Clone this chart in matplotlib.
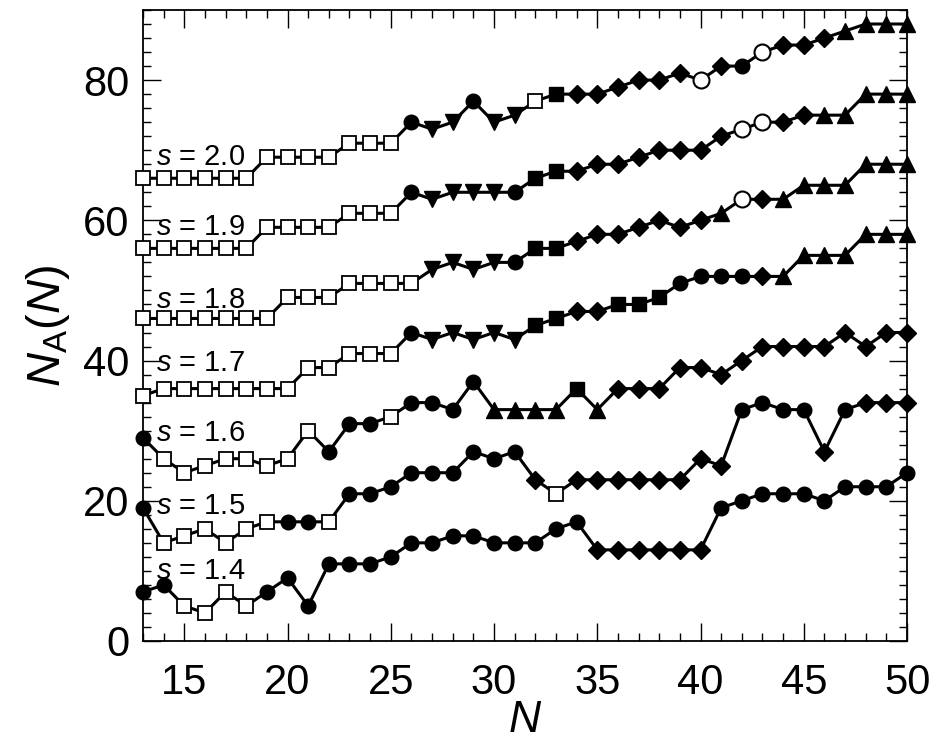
import numpy as np
import matplotlib
matplotlib.use('Agg')
import matplotlib.pyplot as plt
from matplotlib.ticker import MultipleLocator

plt.rcParams['font.family'] = ['Liberation Sans', 'DejaVu Sans']
plt.rcParams['mathtext.fontset'] = 'custom'
plt.rcParams['mathtext.rm'] = 'Liberation Sans'
plt.rcParams['mathtext.it'] = 'Liberation Sans:italic'

N = np.arange(13, 51)

# structure type of each cluster:
# q open square, c filled circle, v triangle down, S filled square,
# d diamond, o open circle, u triangle up
s_values = ['1.4', '1.5', '1.6', '1.7', '1.8', '1.9', '2.0']

na_14 = [7, 8, 5, 4, 7, 5, 7, 9, 5, 11, 11, 11, 12, 14, 14, 15, 15, 14, 14, 14,
         16, 17, 13, 13, 13, 13, 13, 13, 19, 20, 21, 21, 21, 20, 22, 22, 22, 24]
ty_14 = 'cc' + 'q'*4 + 'c'*16 + 'd'*6 + 'c'*10

na_15 = [19, 14, 15, 16, 14, 16, 17, 17, 17, 17, 21, 21, 22, 24, 24, 24, 27, 26, 27, 23,
         21, 23, 23, 23, 23, 23, 23, 26, 25, 33, 34, 33, 33, 27, 33, 34, 34, 34]
ty_15 = 'c' + 'q'*6 + 'cc' + 'q' + 'c'*9 + 'd' + 'q' + 'd'*8 + 'c'*4 + 'd' + 'c' + 'd'*3

na_16 = [29, 26, 24, 25, 26, 26, 25, 26, 30, 27, 31, 31, 32, 34, 34, 33, 37, 33, 33, 33,
         33, 36, 33, 36, 36, 36, 39, 39, 38, 40, 42, 42, 42, 42, 44, 42, 44, 44]
ty_16 = 'c' + 'q'*8 + 'c'*3 + 'q' + 'c'*4 + 'u'*4 + 'S' + 'u' + 'd'*15

na_17 = [35, 36, 36, 36, 36, 36, 36, 36, 39, 39, 41, 41, 41, 44, 43, 44, 43, 44, 43, 45,
         46, 47, 47, 48, 48, 49, 51, 52, 52, 52, 52, 52, 55, 55, 55, 58, 58, 58]
ty_17 = 'q'*13 + 'c' + 'v'*5 + 'SS' + 'dd' + 'S'*3 + 'c'*4 + 'd' + 'u'*7

na_18 = [46, 46, 46, 46, 46, 46, 46, 49, 49, 49, 51, 51, 51, 51, 53, 54, 53, 54, 54, 56,
         56, 57, 58, 58, 59, 60, 59, 60, 61, 63, 63, 63, 65, 65, 65, 68, 68, 68]
ty_18 = 'q'*14 + 'v'*4 + 'c' + 'SS' + 'd'*7 + 'u' + 'o' + 'd' + 'u'*7

na_19 = [56, 56, 56, 56, 56, 56, 59, 59, 59, 59, 61, 61, 61, 64, 63, 64, 64, 64, 64, 66,
         67, 67, 68, 68, 69, 70, 70, 70, 72, 73, 74, 74, 75, 75, 75, 78, 78, 78]
ty_19 = 'q'*13 + 'c' + 'v'*4 + 'c' + 'SS' + 'd'*8 + 'oo' + 'dd' + 'u'*5

na_20 = [66, 66, 66, 66, 66, 66, 69, 69, 69, 69, 71, 71, 71, 74, 73, 74, 77, 74, 75, 77,
         78, 78, 78, 79, 80, 80, 81, 80, 82, 82, 84, 85, 85, 86, 87, 88, 88, 88]
ty_20 = 'q'*13 + 'c' + 'vv' + 'c' + 'vv' + 'q' + 'S' + 'd'*6 + 'o' + 'd' + 'c' + 'o' + 'd'*3 + 'u'*4

series = [na_14, na_15, na_16, na_17, na_18, na_19, na_20]
types = [ty_14, ty_15, ty_16, ty_17, ty_18, ty_19, ty_20]

# anchor of the "s = ..." labels (N, N_A)
label_n = 13.65
label_y = [10.0, 19.3, 29.7, 39.7, 48.6, 59.1, 69.1]

styles = {
    'q': dict(marker='s', ms=10, mfc='white', mec='k', mew=1.3),
    'c': dict(marker='o', ms=10.5, mfc='k', mec='k', mew=1),
    'v': dict(marker='v', ms=11.5, mfc='k', mec='k', mew=1),
    'S': dict(marker='s', ms=10, mfc='k', mec='k', mew=1),
    'd': dict(marker='D', ms=8.8, mfc='k', mec='k', mew=1),
    'o': dict(marker='o', ms=11.5, mfc='white', mec='k', mew=1.5),
    'u': dict(marker='^', ms=11.5, mfc='k', mec='k', mew=1),
}

fig = plt.figure(figsize=(9.37, 7.40), dpi=100)
ax = fig.add_axes([0.1526, 0.1338, 0.8154, 0.8527])

for vals, ty in zip(series, types):
    vals = np.array(vals)
    ty = np.array(list(ty))
    ax.plot(N, vals, '-', color='k', lw=2.2, zorder=2)
    for code, st in styles.items():
        m = ty == code
        if m.any():
            ax.plot(N[m], vals[m], ls='none', zorder=3, clip_on=False, **st)

for s, y in zip(s_values, label_y):
    ax.text(label_n, y, '$s$ = ' + s, fontsize=21, ha='left', va='center', zorder=4)

ax.set_xlim(13, 50)
ax.set_ylim(0, 90)
ax.xaxis.set_major_locator(MultipleLocator(5))
ax.xaxis.set_minor_locator(MultipleLocator(1))
ax.yaxis.set_major_locator(MultipleLocator(20))
ax.yaxis.set_minor_locator(MultipleLocator(2))
ax.tick_params(which='both', direction='in', top=True, right=True, width=1)
ax.tick_params(which='major', length=13)
ax.tick_params(which='minor', length=6)
ax.tick_params(axis='y', which='major', labelsize=30, pad=10)
ax.tick_params(axis='x', which='major', labelsize=30, pad=16)
for sp in ax.spines.values():
    sp.set_linewidth(1.3)

ax.set_xlabel('$N$', fontsize=32)
ax.xaxis.set_label_coords(0.5, -0.094)
ax.set_ylabel(r'$N_{\mathrm{A}}(N)$', fontsize=34, labelpad=8)

fig.savefig('out.png', dpi=100)
